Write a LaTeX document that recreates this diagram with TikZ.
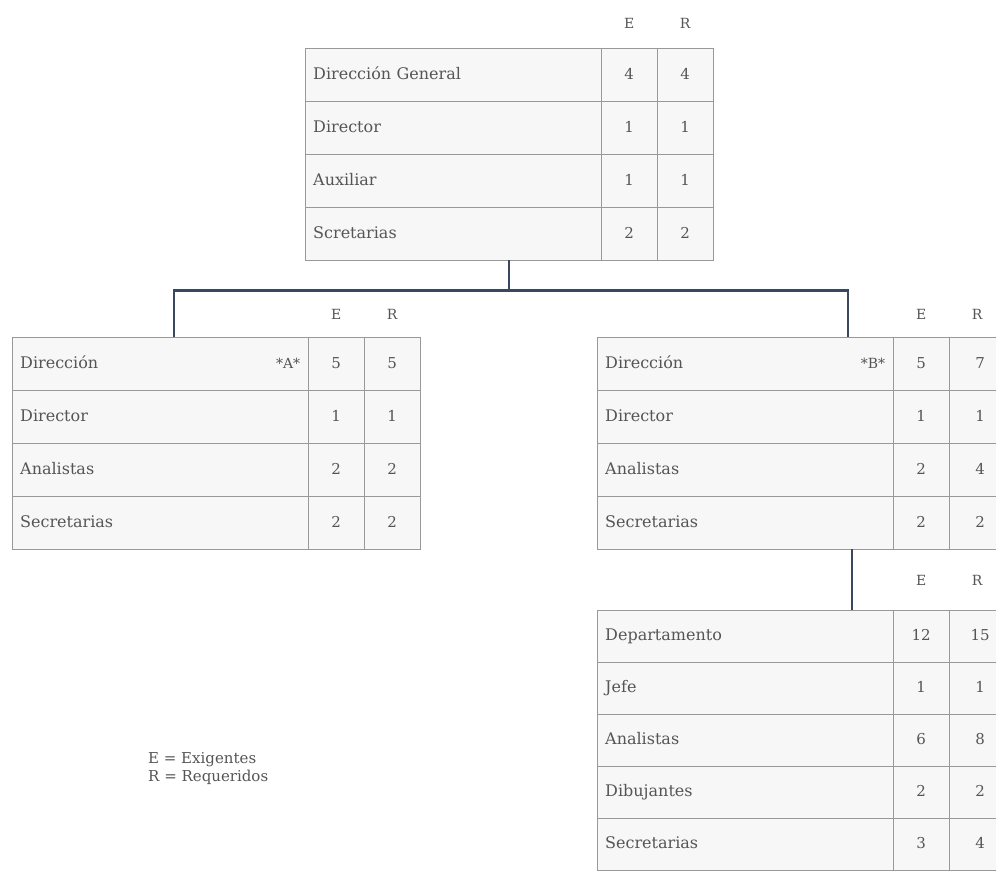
\documentclass[tikz,border=0pt]{standalone}
\usepackage{fontspec}
\setmainfont{DejaVu Serif}
\usepackage{tikz}
\usetikzlibrary{calc,positioning}
\definecolor{linkblue}{HTML}{3B4660}
\definecolor{celltext}{HTML}{555555}
\tikzset{
  namecell/.style={draw=black!40, fill=black!3, anchor=north west, text width=280pt, align=left, inner xsep=8pt, inner ysep=0pt, minimum height=53pt, text height=12pt, text depth=3pt, text=celltext, font=\fontsize{16}{18}\selectfont},
  numcell/.style={draw=black!40, fill=black!3, anchor=north west, minimum width=56pt, inner sep=0pt, minimum height=53pt, text height=12pt, text depth=3pt, text=celltext, font=\fontsize{15}{17}\selectfont},
  hdr/.style={text=celltext, inner sep=0pt, font=\fontsize{14}{16}\selectfont},
  tag/.style={text=celltext, inner sep=0pt, anchor=east, font=\fontsize{14}{16}\selectfont},
  link/.style={draw=linkblue, line width=2.2pt},
  legend/.style={text=celltext, align=left, anchor=north west, inner sep=0pt, font=\fontsize{15}{18}\selectfont}
}
\begin{document}
\begin{tikzpicture}[x=1pt,y=-1pt]
\useasboundingbox (0,0) rectangle (996,872);
% ---- top: direccion general ----
\foreach \lbl/\e/\r [count=\i from 0] in {Dirección General/4/4, Director/1/1, Auxiliar/1/1, Scretarias/2/2}{
  \node[namecell] (g\i) at (305,{48+53*\i}) {\lbl};
  \node[numcell] (ge\i) at (601,{48+53*\i}) {\e};
  \node[numcell] (gr\i) at (657,{48+53*\i}) {\r};
}
\node[hdr] (gE) at ($(ge0.north)+(0,-25)$) {E};
\node[hdr] (gR) at ($(gr0.north)+(0,-25)$) {R};
% ---- left: direccion A ----
\foreach \lbl/\e/\r [count=\i from 0] in {Dirección/5/5, Director/1/1, Analistas/2/2, Secretarias/2/2}{
  \node[namecell] (a\i) at (12,{337+53*\i}) {\lbl};
  \node[numcell] (ae\i) at (308,{337+53*\i}) {\e};
  \node[numcell] (ar\i) at (364,{337+53*\i}) {\r};
}
\node[tag] (tagA) at ($(a0.east)+(-8,0)$) {*A*};
\node[hdr] (aE) at ($(ae0.north)+(0,-23)$) {E};
\node[hdr] (aR) at ($(ar0.north)+(0,-23)$) {R};
% ---- right: direccion B ----
\foreach \lbl/\e/\r [count=\i from 0] in {Dirección/5/7, Director/1/1, Analistas/2/4, Secretarias/2/2}{
  \node[namecell] (b\i) at (597,{337+53*\i}) {\lbl};
  \node[numcell] (be\i) at (893,{337+53*\i}) {\e};
  \node[numcell, minimum width=62pt] (br\i) at (949,{337+53*\i}) {\r};
}
\node[tag] (tagB) at ($(b0.east)+(-8,0)$) {*B*};
\node[hdr] (bE) at ($(be0.north)+(0,-23)$) {E};
\node[hdr] (bR) at ($(br0.north)+(-3,-23)$) {R};
% ---- bottom: departamento ----
\foreach \lbl/\e/\r [count=\i from 0] in {Departamento/12/15, Jefe/1/1, Analistas/6/8, Dibujantes/2/2, Secretarias/3/4}{
  \node[namecell, minimum height=52pt] (d\i) at (597,{610+52*\i}) {\lbl};
  \node[numcell, minimum height=52pt] (de\i) at (893,{610+52*\i}) {\e};
  \node[numcell, minimum height=52pt, minimum width=62pt] (dr\i) at (949,{610+52*\i}) {\r};
}
\node[hdr] (dE) at ($(de0.north)+(0,-30)$) {E};
\node[hdr] (dR) at ($(dr0.north)+(-3,-30)$) {R};
% ---- connectors ----
\coordinate (stem) at ($(g3.south west)!0.5!(gr3.south east)$);
\coordinate (bus) at ($(stem)+(0,30)$);
\coordinate (dropA) at ($(a0.north west)+(162,0)$);
\coordinate (dropB) at ($(b0.north west)+(251,0)$);
\coordinate (dropD) at ($(b3.south west)+(255,0)$);
\draw[link] (stem) -- (bus);
\draw[link] (dropA) |- (bus) -| (dropB);
\draw[link] (dropD) -- (dropD |- d0.north);
% ---- legend ----
\node[legend] (key) at (148,752) {E = Exigentes\\R = Requeridos};
\end{tikzpicture}
\end{document}
